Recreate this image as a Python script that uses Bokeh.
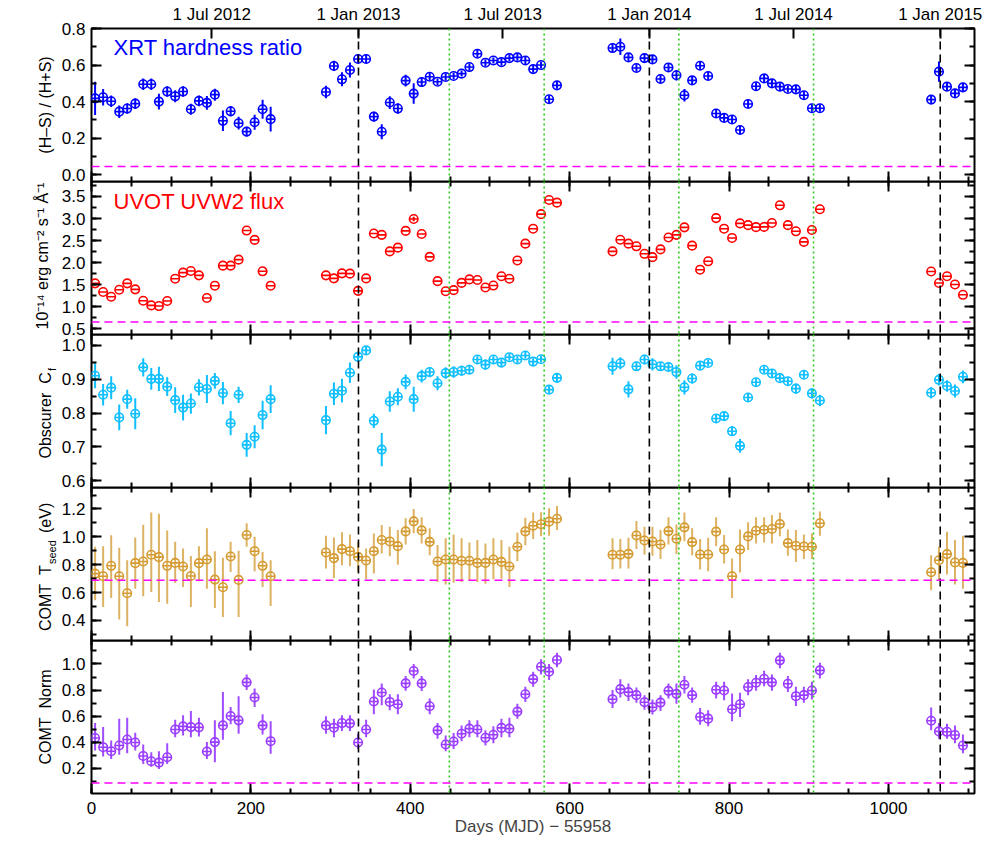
import math
from bokeh.plotting import figure
from bokeh.models import (Range1d, LinearAxis, FixedTicker, PrintfTickFormatter, CustomJSTickFormatter,
                          Span, Label, ColumnDataSource)
from bokeh.layouts import column, row
from bokeh.embed import file_html
from bokeh.resources import INLINE
from bokeh.core.properties import value

# ---------------- data ----------------
days = [4.5, 14.6, 24.7, 34.8, 44.8, 54.9, 64.9, 75.0, 84.6, 95.0, 105.0, 114.9, 124.7, 134.8, 144.8,
        154.8, 164.9, 174.6, 184.6, 194.7, 204.7, 214.7, 224.8,
        294.2, 304.2, 314.3, 324.3, 334.5, 344.6, 354.3, 364.2, 374.3, 384.4, 394.2, 404.3, 414.3, 424.4,
        434.2, 444.4, 454.4, 464.4, 474.2, 484.2, 494.3, 504.3, 514.4, 524.4, 534.4, 544.4, 554.2, 564.1,
        574.2, 584.1,
        653.8, 663.6, 673.8, 683.8, 693.9, 703.9, 714.0, 724.0, 734.0, 744.0, 753.7, 763.7, 773.8, 783.8,
        793.8, 803.8, 813.8, 823.9, 833.9, 844.0, 853.8, 863.8, 873.8, 883.9, 893.9, 904.0, 914.0,
        1053.6, 1063.4, 1073.5, 1083.5, 1093.5]

hardness = [0.418, 0.424, 0.402, 0.345, 0.362, 0.389, 0.495, 0.495, 0.400, 0.455, 0.429, 0.455, 0.358, 0.404,
            0.393, 0.438, 0.295, 0.347, 0.282, 0.236, 0.287, 0.358, 0.304,
            0.453, 0.595, 0.522, 0.573, 0.633, 0.633, 0.318, 0.235, 0.395, 0.362, 0.515, 0.444, 0.507, 0.536,
            0.509, 0.535, 0.540, 0.553, 0.589, 0.662, 0.613, 0.625, 0.616, 0.638, 0.642, 0.625, 0.578, 0.600,
            0.413, 0.489,
            0.693, 0.700, 0.642, 0.584, 0.638, 0.631, 0.524, 0.587, 0.544, 0.435, 0.516, 0.596, 0.540, 0.335,
            0.311, 0.302, 0.245, 0.387, 0.484, 0.527, 0.500, 0.482, 0.469, 0.467, 0.435, 0.364, 0.364,
            0.411, 0.564, 0.482, 0.445, 0.478]
hardness_err = [0.091, 0.045, 0.032, 0.034, 0.029, 0.030, 0.031, 0.031, 0.043, 0.029, 0.033, 0.029, 0.030, 0.030,
                0.038, 0.033, 0.056, 0.029, 0.035, 0.027, 0.041, 0.052, 0.068,
                0.034, 0.028, 0.038, 0.041, 0.023, 0.023, 0.027, 0.041, 0.035, 0.029, 0.032, 0.056, 0.027, 0.020,
                0.018, 0.020, 0.018, 0.016, 0.020, 0.020, 0.018, 0.016, 0.018, 0.017, 0.018, 0.020, 0.020, 0.018,
                0.020, 0.018,
                0.023, 0.045, 0.023, 0.020, 0.022, 0.023, 0.023, 0.022, 0.029, 0.034, 0.024, 0.023, 0.022, 0.020,
                0.021, 0.020, 0.022, 0.022, 0.020, 0.020, 0.020, 0.019, 0.019, 0.019, 0.021, 0.020, 0.020,
                0.020, 0.055, 0.022, 0.022, 0.022]

uvw2 = [1.530, 1.333, 1.227, 1.386, 1.530, 1.394, 1.136, 1.030, 1.015, 1.129, 1.636, 1.773, 1.810, 1.712,
        1.197, 1.477, 1.932, 1.932, 2.068, 2.727, 2.515, 1.803, 1.477,
        1.711, 1.642, 1.757, 1.750, 1.360, 1.642, 2.660, 2.630, 2.255, 2.340, 2.720, 2.990, 2.650, 2.130,
        1.580, 1.350, 1.376, 1.540, 1.620, 1.605, 1.436, 1.480, 1.690, 1.635, 2.050, 2.430, 2.770, 3.100,
        3.420, 3.360,
        2.255, 2.520, 2.430, 2.370, 2.200, 2.124, 2.300, 2.570, 2.630, 2.800, 2.385, 1.840, 2.030, 3.010,
        2.770, 2.560, 2.890, 2.850, 2.805, 2.810, 2.900, 3.300, 2.850, 2.710, 2.470, 2.740, 3.210,
        1.800, 1.537, 1.690, 1.505, 1.270]
uvw2_err = [0.00, 0.00, 0.00, 0.00, 0.00, 0.00, 0.00, 0.00, 0.00, 0.00, 0.00, 0.00, 0.00, 0.00,
            0.00, 0.00, 0.00, 0.00, 0.00, 0.00, 0.00, 0.00, 0.00,
            0.00, 0.00, 0.00, 0.00, 0.00, 0.00, 0.00, 0.00, 0.00, 0.00, 0.00, 0.05, 0.00, 0.00,
            0.00, 0.00, 0.00, 0.00, 0.00, 0.00, 0.00, 0.00, 0.00, 0.00, 0.00, 0.00, 0.00, 0.00,
            0.00, 0.00,
            0.00, 0.00, 0.00, 0.00, 0.00, 0.00, 0.00, 0.00, 0.00, 0.00, 0.00, 0.00, 0.00, 0.00,
            0.00, 0.00, 0.00, 0.00, 0.00, 0.00, 0.00, 0.00, 0.00, 0.00, 0.00, 0.00, 0.00,
            0.00, 0.00, 0.00, 0.00, 0.00]

cf = [0.910, 0.854, 0.875, 0.787, 0.841, 0.798, 0.935, 0.901, 0.901, 0.878, 0.838, 0.816, 0.828, 0.876,
      0.871, 0.895, 0.859, 0.770, 0.854, 0.706, 0.730, 0.794, 0.841,
      0.779, 0.857, 0.866, 0.919, 0.966, 0.985, 0.777, 0.692, 0.834, 0.848, 0.892, 0.841, 0.909, 0.921,
      0.888, 0.918, 0.921, 0.925, 0.928, 0.958, 0.943, 0.958, 0.949, 0.965, 0.958, 0.970, 0.952, 0.959,
      0.869, 0.904,
      0.938, 0.947, 0.870, 0.938, 0.958, 0.944, 0.938, 0.936, 0.921, 0.876, 0.902, 0.940, 0.948, 0.784,
      0.791, 0.746, 0.703, 0.846, 0.891, 0.928, 0.917, 0.903, 0.894, 0.872, 0.913, 0.858, 0.837,
      0.860, 0.898, 0.880, 0.865, 0.907]
cf_err = [0.037, 0.032, 0.034, 0.038, 0.028, 0.046, 0.027, 0.032, 0.036, 0.028, 0.038, 0.038, 0.030, 0.024,
          0.041, 0.023, 0.033, 0.036, 0.024, 0.035, 0.034, 0.042, 0.041,
          0.042, 0.033, 0.035, 0.030, 0.015, 0.013, 0.021, 0.049, 0.030, 0.025, 0.022, 0.037, 0.019, 0.015,
          0.021, 0.017, 0.017, 0.015, 0.013, 0.010, 0.015, 0.010, 0.010, 0.010, 0.010, 0.010, 0.010, 0.010,
          0.012, 0.012,
          0.025, 0.018, 0.024, 0.012, 0.014, 0.018, 0.012, 0.013, 0.020, 0.021, 0.015, 0.010, 0.010, 0.013,
          0.013, 0.014, 0.020, 0.012, 0.011, 0.010, 0.011, 0.010, 0.011, 0.015, 0.012, 0.015, 0.017,
          0.017, 0.017, 0.017, 0.019, 0.019]

tseed = [0.736, 0.717, 0.792, 0.717, 0.595, 0.811, 0.823, 0.871, 0.854, 0.792, 0.813, 0.787, 0.719, 0.811,
         0.837, 0.693, 0.638, 0.859, 0.691, 1.013, 0.897, 0.792, 0.717,
         0.888, 0.847, 0.912, 0.897, 0.856, 0.830, 0.897, 0.977, 0.967, 0.933, 1.039, 1.111, 1.046, 0.964,
         0.823, 0.837, 0.837, 0.828, 0.828, 0.813, 0.813, 0.837, 0.820, 0.787, 0.929, 1.039, 1.080, 1.090,
         1.109, 1.130,
         0.871, 0.871, 0.878, 1.010, 0.974, 0.967, 0.945, 1.041, 0.986, 1.068, 0.962, 0.873, 0.873, 1.037,
         0.909, 0.717, 0.909, 1.003, 1.044, 1.051, 1.056, 1.092, 0.955, 0.936, 0.931, 0.929, 1.097,
         0.746, 0.832, 0.876, 0.816, 0.813]
tseed_lo = [0.544, 0.496, 0.561, 0.407, 0.359, 0.628, 0.573, 0.604, 0.532, 0.520, 0.669, 0.640, 0.496, 0.681,
            0.628, 0.489, 0.424, 0.748, 0.424, 0.929, 0.753, 0.640, 0.503,
            0.772, 0.705, 0.796, 0.789, 0.748, 0.695, 0.736, 0.880, 0.861, 0.800, 0.945, 1.025, 0.953, 0.868,
            0.676, 0.657, 0.671, 0.676, 0.688, 0.676, 0.664, 0.695, 0.700, 0.640, 0.825, 0.940, 0.984, 1.005,
            1.008, 1.049,
            0.767, 0.772, 0.772, 0.912, 0.873, 0.864, 0.840, 0.945, 0.876, 0.969, 0.868, 0.765, 0.753, 0.933,
            0.808, 0.561, 0.744, 0.905, 0.953, 0.960, 0.953, 1.005, 0.864, 0.820, 0.840, 0.840, 1.008,
            0.616, 0.688, 0.729, 0.657, 0.628]
tseed_hi = [0.929, 0.933, 1.012, 0.921, 0.832, 0.996, 1.087, 1.174, 1.166, 1.046, 0.965, 0.917, 0.863, 0.933,
            1.061, 0.897, 0.849, 0.965, 0.900, 1.097, 1.000, 0.892, 0.832,
            1.008, 0.996, 1.032, 1.017, 0.965, 0.917, 1.024, 1.085, 1.073, 1.049, 1.133, 1.200, 1.140, 1.061,
            0.941, 0.989, 1.017, 0.989, 0.960, 0.977, 0.953, 0.989, 0.977, 0.929, 1.029, 1.137, 1.174, 1.176,
            1.205, 1.222,
            0.989, 0.984, 0.993, 1.113, 1.073, 1.073, 1.049, 1.140, 1.089, 1.174, 1.061, 0.984, 0.993, 1.140,
            1.013, 0.844, 1.053, 1.104, 1.140, 1.140, 1.157, 1.174, 1.053, 1.049, 1.017, 1.024, 1.181,
            0.868, 0.929, 1.037, 0.977, 1.008]

norm = [0.432, 0.362, 0.331, 0.375, 0.421, 0.398, 0.295, 0.254, 0.244, 0.285, 0.498, 0.522, 0.516, 0.514,
        0.329, 0.401, 0.529, 0.601, 0.568, 0.859, 0.743, 0.529, 0.408,
        0.529, 0.511, 0.547, 0.545, 0.398, 0.498, 0.712, 0.781, 0.709, 0.691, 0.851, 0.946, 0.851, 0.676,
        0.491, 0.383, 0.406, 0.465, 0.504, 0.498, 0.434, 0.457, 0.510, 0.504, 0.635, 0.768, 0.884, 0.979,
        0.941, 1.031,
        0.730, 0.807, 0.784, 0.761, 0.707, 0.668, 0.704, 0.794, 0.771, 0.841, 0.761, 0.594, 0.581, 0.802,
        0.797, 0.653, 0.691, 0.823, 0.856, 0.887, 0.859, 1.028, 0.848, 0.753, 0.761, 0.797, 0.951,
        0.565, 0.483, 0.480, 0.455, 0.375]
norm_lo = [0.336, 0.290, 0.272, 0.305, 0.316, 0.336, 0.233, 0.213, 0.195, 0.233, 0.439, 0.452, 0.439, 0.444,
           0.272, 0.246, 0.419, 0.537, 0.465, 0.800, 0.671, 0.460, 0.311,
           0.465, 0.439, 0.486, 0.486, 0.349, 0.439, 0.614, 0.684, 0.645, 0.614, 0.794, 0.889, 0.792, 0.614,
           0.426, 0.331, 0.349, 0.408, 0.439, 0.439, 0.375, 0.393, 0.439, 0.439, 0.581, 0.709, 0.825, 0.920,
           0.877, 0.974,
           0.663, 0.743, 0.717, 0.702, 0.650, 0.612, 0.640, 0.735, 0.696, 0.774, 0.702, 0.534, 0.522, 0.735,
           0.722, 0.560, 0.594, 0.761, 0.794, 0.830, 0.794, 0.967, 0.786, 0.678, 0.702, 0.727, 0.889,
           0.491, 0.426, 0.426, 0.393, 0.316]
norm_hi = [0.547, 0.516, 0.414, 0.581, 0.588, 0.473, 0.383, 0.323, 0.331, 0.393, 0.573, 0.606, 0.640, 0.588,
           0.401, 0.568, 0.786, 0.671, 0.753, 0.920, 0.812, 0.614, 0.560,
           0.599, 0.581, 0.606, 0.606, 0.465, 0.573, 0.804, 0.851, 0.768, 0.768, 0.907, 1.000, 0.907, 0.735,
           0.547, 0.452, 0.470, 0.529, 0.568, 0.568, 0.491, 0.522, 0.581, 0.588, 0.696, 0.825, 0.941, 1.036,
           1.000, 1.087,
           0.800, 0.882, 0.851, 0.820, 0.761, 0.727, 0.761, 0.851, 0.851, 0.907, 0.820, 0.663, 0.645, 0.864,
           0.864, 0.774, 0.779, 0.882, 0.915, 0.949, 0.920, 1.087, 0.907, 0.825, 0.825, 0.864, 1.010,
           0.666, 0.547, 0.542, 0.529, 0.460]

jan_days = [335, 700, 1065]              # 1 Jan 2013 / 2014 / 2015
event_days = [449, 568, 737, 906]        # green dotted epochs
date_ticks = [151, 335, 516, 700, 881, 1065]
date_labels = ["1 Jul 2012", "1 Jan 2013", "1 Jul 2013", "1 Jan 2014", "1 Jul 2014", "1 Jan 2015"]
hardness_level = 0.045
uvw2_level = 0.655
tseed_level = 0.688
norm_level = 0.087

# ---------------- styling ----------------
FONT = "Liberation Sans"
X_END = 1108
FRAME_W, FRAME_H = 883, 153
LAB_W = 58                       # width of the strip that carries the y titles
TOP_B, BOT_B = 28, 58
OV = 10                          # bottom border that the next row overlaps (keeps tick labels whole)
X_MAJOR = [0, 200, 400, 600, 800, 1000]
X_MINOR = [50 * i for i in range(23)]
BLANK = CustomJSTickFormatter(code="return '';")
SP = "\u00a0\u00a0"


def style_axis(ax, ticker, show_labels, fmt=None):
    ax.ticker = ticker
    ax.axis_line_color = None
    ax.major_tick_in = 10
    ax.major_tick_out = 0
    ax.minor_tick_in = 5
    ax.minor_tick_out = 0
    ax.major_tick_line_width = 2
    ax.minor_tick_line_width = 2
    ax.major_tick_line_color = "black"
    ax.minor_tick_line_color = "black"
    if show_labels:
        if fmt is not None:
            ax.formatter = fmt
        ax.major_label_text_font = FONT
        ax.major_label_text_font_size = "17px"
        ax.major_label_text_color = "black"
    else:
        ax.formatter = BLANK
        ax.major_label_standoff = 0


def make_panel(y0, y1, ymaj, ymin, first=False, last=False):
    p = figure(frame_width=FRAME_W, frame_height=FRAME_H,
               x_range=Range1d(0, X_END), y_range=Range1d(y0, y1),
               output_backend="svg", toolbar_location=None,
               x_axis_location=None, y_axis_location=None,
               min_border_left=90 - LAB_W, min_border_right=12,
               min_border_top=TOP_B if first else 0,
               min_border_bottom=BOT_B if last else OV)
    p.outline_line_color = "black"
    p.outline_line_width = 2
    p.background_fill_color = None
    p.border_fill_color = None
    p.xgrid.visible = False
    p.ygrid.visible = False

    left = LinearAxis()
    style_axis(left, FixedTicker(ticks=ymaj, minor_ticks=ymin), True, PrintfTickFormatter(format="%.1f"))
    left.major_label_standoff = 6
    p.add_layout(left, "left")
    right = LinearAxis()
    style_axis(right, FixedTicker(ticks=ymaj, minor_ticks=ymin), False)
    p.add_layout(right, "right")

    bottom = LinearAxis()
    style_axis(bottom, FixedTicker(ticks=X_MAJOR, minor_ticks=X_MINOR), last, PrintfTickFormatter(format="%d"))
    if last:
        bottom.major_label_standoff = 8
        bottom.axis_label = "Days (MJD) \u2212 55958"
        bottom.axis_label_text_font = FONT
        bottom.axis_label_text_font_size = "17px"
        bottom.axis_label_text_font_style = "normal"
        bottom.axis_label_standoff = 0
    p.add_layout(bottom, "below")

    top = LinearAxis()
    if first:
        style_axis(top, FixedTicker(ticks=date_ticks, minor_ticks=[]), True)
        top.major_label_overrides = {t: lab for t, lab in zip(date_ticks, date_labels)}
        top.major_label_standoff = 5
    else:
        style_axis(top, FixedTicker(ticks=X_MAJOR, minor_ticks=X_MINOR), False)
    p.add_layout(top, "above")

    for d in jan_days:
        p.add_layout(Span(location=d, dimension="height", line_color="black",
                          line_dash="8 5", line_width=1.6))
    for d in event_days:
        p.add_layout(Span(location=d, dimension="height", line_color="#33CC22",
                          line_dash="2 3", line_width=1.6))
    return p


def title_strip(parts, first=False, last=False):
    """Narrow figure (pixel coordinates) that carries the rotated y title of one panel."""
    s = figure(frame_width=LAB_W, frame_height=FRAME_H,
               x_range=Range1d(0, LAB_W), y_range=Range1d(0, FRAME_H),
               output_backend="svg", toolbar_location=None,
               x_axis_location=None, y_axis_location=None,
               min_border_left=0, min_border_right=0,
               min_border_top=TOP_B if first else 0,
               min_border_bottom=BOT_B if last else OV)
    s.outline_line_color = None
    s.background_fill_color = None
    s.border_fill_color = None
    s.xgrid.visible = False
    s.ygrid.visible = False
    for text, xx, yy, align, fs in parts:
        s.text(x=[xx], y=[yy], text=[text], angle=math.pi / 2, text_align=align,
               text_baseline="middle", text_font=value(FONT), text_font_size=value(fs),
               text_color="black")
    return s


def draw_points(p, y, lo, hi, color, err_color):
    src = ColumnDataSource(dict(x=days, y=y, lo=lo, hi=hi))
    p.segment(x0="x", y0="lo", x1="x", y1="hi", source=src, line_color=err_color, line_width=2)
    p.scatter(x="x", y="y", source=src, marker="circle", size=8.5, fill_color=None,
              line_color=color, line_width=1.6)
    p.scatter(x="x", y="y", source=src, marker="dash", size=8.5,
              line_color=color, line_width=1.6)


def level_line(p, level):
    p.add_layout(Span(location=level, dimension="width", line_color="#FF00FF",
                      line_dash="8 5", line_width=1.6))


MID = FRAME_H / 2
XT = 45  # centre of the rotated titles (page pixels)

# Panel 1: hardness ratio
p1 = make_panel(-0.037, 0.80, [0.0, 0.2, 0.4, 0.6, 0.8], [0.1 * i for i in range(9)], first=True)
level_line(p1, hardness_level)
draw_points(p1, hardness, [v - e for v, e in zip(hardness, hardness_err)],
            [v + e for v, e in zip(hardness, hardness_err)], "#0000FF", "#0000FF")
p1.add_layout(Label(x=22, y=134, x_units="screen", y_units="screen", text="XRT hardness ratio",
                    text_align="left", text_baseline="middle", text_font=FONT,
                    text_font_size="22px", text_color="#0000FF"))
s1 = title_strip([("(H\u2013S) / (H+S)", XT, MID, "center", "16px")], first=True)

# Panel 2: UVW2 flux
p2 = make_panel(0.37, 3.84, [0.5, 1.0, 1.5, 2.0, 2.5, 3.0, 3.5], [0.25 * i for i in range(1, 16)])
level_line(p2, uvw2_level)
draw_points(p2, uvw2, [v - e for v, e in zip(uvw2, uvw2_err)],
            [v + e for v, e in zip(uvw2, uvw2_err)], "#FF0000", "#FF0000")
p2.add_layout(Label(x=22, y=133.5, x_units="screen", y_units="screen", text="UVOT UVW2 flux",
                    text_align="left", text_baseline="middle", text_font=FONT,
                    text_font_size="22px", text_color="#FF0000"))
s2 = title_strip([("10\u207b\u00b9\u2074 erg cm\u207b\u00b2 s\u207b\u00b9 \u00c5\u207b\u00b9",
                   XT - 3, MID + 2, "center", "16px")])

# Panel 3: covering fraction
p3 = make_panel(0.58, 1.032, [0.6, 0.7, 0.8, 0.9, 1.0], [0.55 + 0.05 * i for i in range(10)])
draw_points(p3, cf, [v - e for v, e in zip(cf, cf_err)],
            [v + e for v, e in zip(cf, cf_err)], "#10BFFF", "#10BFFF")
s3 = title_strip([("Obscurer" + SP + "C", XT, 29, "left", "16px"), ("f", XT + 6, 116.5, "left", "11px")])

# Panel 4: seed temperature
p4 = make_panel(0.256, 1.354, [0.4, 0.6, 0.8, 1.0, 1.2], [0.3 + 0.1 * i for i in range(11)])
level_line(p4, tseed_level)
draw_points(p4, tseed, tseed_lo, tseed_hi, "#D49A30", "#DDB262")
s4 = title_strip([("COMT" + SP + "T", XT, 9.5, "left", "16px"), ("seed", XT + 6, 76.5, "left", "11px"),
                  ("(eV)", XT, 107.5, "left", "16px")])

# Panel 5: normalisation
p5 = make_panel(0.007, 1.18, [0.2, 0.4, 0.6, 0.8, 1.0], [0.1 * i for i in range(1, 12)], last=True)
level_line(p5, norm_level)
draw_points(p5, norm, norm_lo, norm_hi, "#9A3CFF", "#A04CFF")
s5 = title_strip([("COMT" + SP + "Norm", XT, MID, "center", "16px")], last=True)

rows = [row(s1, p1, spacing=0)]
for s, p in [(s2, p2), (s3, p3), (s4, p4), (s5, p5)]:
    rows.append(row(s, p, spacing=0, margin=(-OV, 0, 0, 0)))
layout = column(*rows, spacing=0)
open("out.html", "w").write(file_html(layout, INLINE, title="Swift monitoring"))
